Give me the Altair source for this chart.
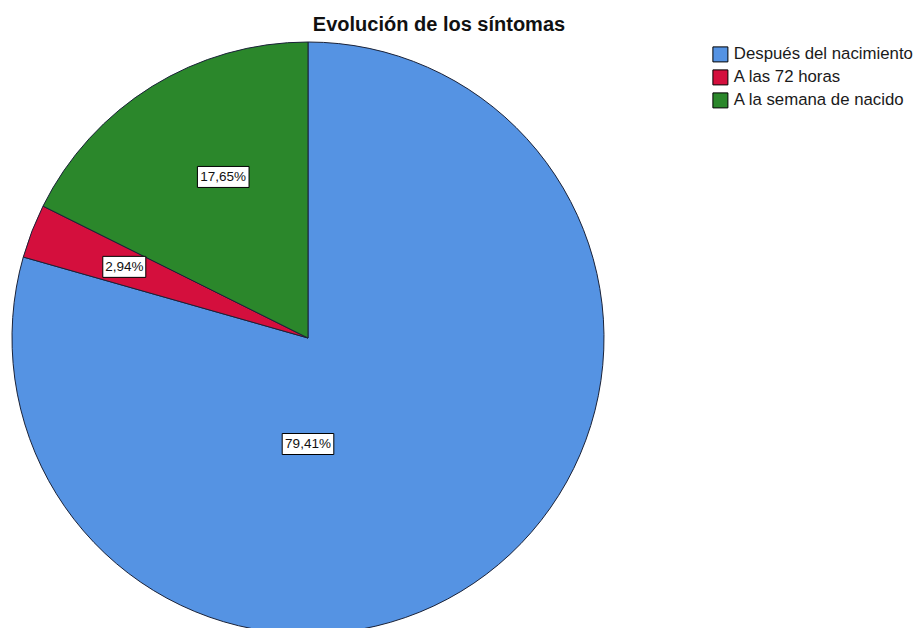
import altair as alt
import pandas as pd

categories = ["Después del nacimiento", "A las 72 horas", "A la semana de nacido"]
values = [79.41, 2.94, 17.65]
labels = ["79,41%", "2,94%", "17,65%"]
colors = ["#5593E3", "#D40F3D", "#2B872B"]

df = pd.DataFrame({"cat": categories, "value": values, "label": labels, "idx": list(range(len(categories)))})

CX, CY, R = 308, 296, 296

base = alt.Chart(df)

pie = base.mark_arc(radius=R, stroke="#1a2238", strokeWidth=1).encode(
    theta=alt.Theta("value:Q", stack=True),
    color=alt.Color(
        "cat:N",
        scale=alt.Scale(domain=categories, range=colors),
        sort=categories,
        legend=alt.Legend(
            title=None,
            orient="none",
            legendX=712,
            legendY=4,
            symbolType="square",
            symbolSize=225,
            symbolStrokeColor="black",
            symbolStrokeWidth=1,
            symbolOpacity=1,
            labelFont="Liberation Sans",
            labelFontSize=16.8,
            labelColor="#1a1a1a",
            labelOffset=5,
            rowPadding=3,
            labelLimit=300,
        ),
    ),
    order=alt.Order("idx:Q"),
    x=alt.value(CX),
    y=alt.value(CY),
)

lab = (
    base.transform_joinaggregate(total="sum(value)")
    .transform_window(cum="sum(value)", sort=[alt.SortField("idx")], frame=[None, 0])
    .transform_calculate(
        mid="(datum.cum - datum.value/2)/datum.total*2*PI",
        ang="datum.idx == 0 ? PI : datum.mid + (datum.idx == 2 ? 0.07 : 0)",
        r="datum.idx == 0 ? 106 : (datum.idx == 1 ? 197 : 182)",
        lx=f"{CX} + datum.r*sin(datum.ang)",
        ly=f"{CY} - datum.r*cos(datum.ang)",
        hw="4.3*length(datum.label)",
        bx="datum.lx - datum.hw",
        bx2="datum.lx + datum.hw",
        by="datum.ly - 10.5",
        by2="datum.ly + 10.5",
    )
)

box = lab.mark_rect(fill="white", stroke="black", strokeWidth=1, opacity=1).encode(
    x=alt.X("bx:Q", scale=None, axis=None),
    x2="bx2:Q",
    y=alt.Y("by:Q", scale=None, axis=None),
    y2="by2:Q",
)

txt = lab.mark_text(font="Liberation Sans", fontSize=13.5, color="#111111", baseline="middle", align="center").encode(
    x=alt.X("lx:Q", scale=None, axis=None),
    y=alt.Y("ly:Q", scale=None, axis=None),
    text="label:N",
)

chart = (
    alt.layer(pie, box, txt)
    .properties(
        width=914,
        height=586,
        padding={"left": 0, "top": 42, "right": 0, "bottom": 0},
        autosize="none",
        title=alt.TitleParams(
            "Evolución de los síntomas",
            font="Liberation Sans",
            fontSize=20,
            fontWeight="bold",
            color="#111111",
            anchor="middle",
            dx=-18,
            offset=5,
        ),
    )
    .configure_view(stroke=None)
)

chart.save("out.html", embed_options={"renderer": "svg", "actions": False})
